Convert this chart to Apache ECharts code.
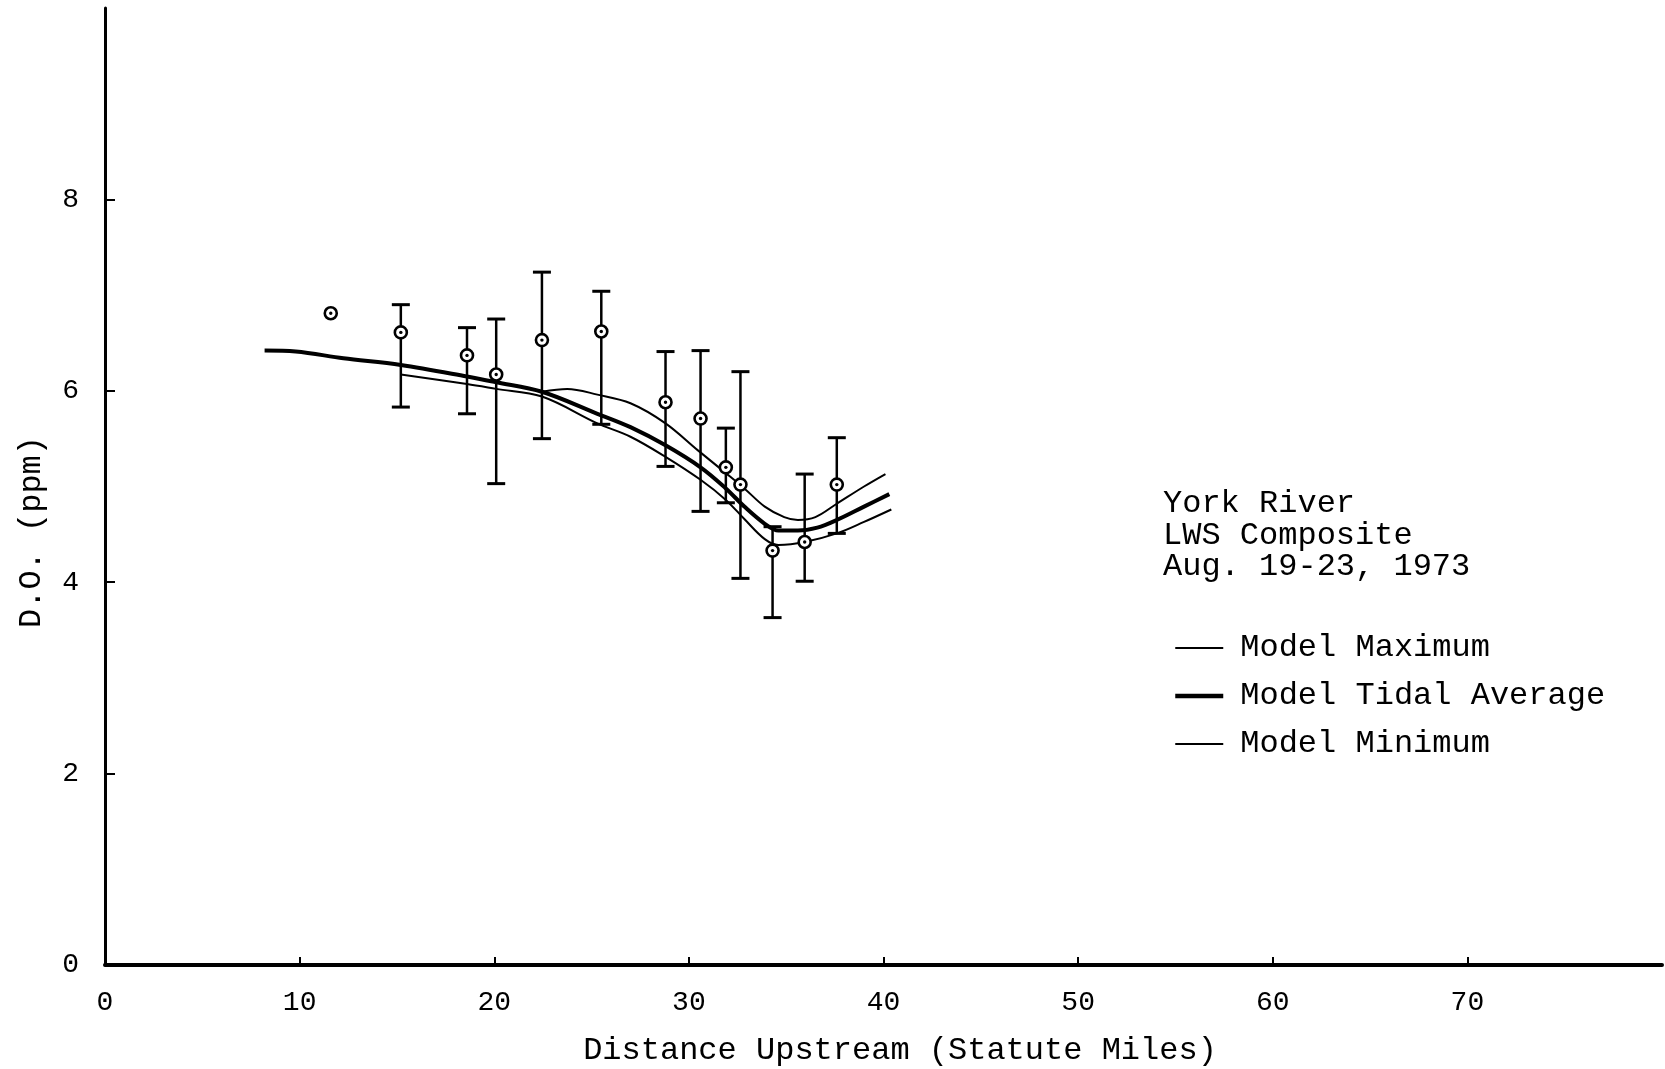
<!DOCTYPE html>
<html>
<head>
<meta charset="utf-8">
<script src="https://cdn.jsdelivr.net/npm/echarts@6/dist/echarts.min.js"></script>
<style>
html,body{margin:0;padding:0;background:#fff;}
#chart{width:1665px;height:1069px;}
</style>
</head>
<body>
<div id="chart"></div>
<script>
// ---- Data ----
const xTicks = [0, 10, 20, 30, 40, 50, 60, 70];
const yTicks = [0, 2, 4, 6, 8];

// Observed D.O. (circles) with range bars
const distance = [11.6, 15.2, 18.6, 20.1, 22.45, 25.5, 28.8, 30.6, 31.9, 32.65, 34.3, 35.95, 37.6];
const observed = [6.81, 6.61, 6.37, 6.17, 6.53, 6.62, 5.88, 5.71, 5.20, 5.02, 4.33, 4.42, 5.02];
const obsHigh  = [null, 6.90, 6.66, 6.75, 7.24, 7.04, 6.41, 6.42, 5.61, 6.20, 4.58, 5.13, 5.51];
const obsLow   = [null, 5.83, 5.76, 5.03, 5.50, 5.65, 5.21, 4.74, 4.83, 4.04, 3.63, 4.01, 4.51];

// Model Tidal Average
const avgX = [8.2, 9.8, 12.25, 15.2, 18.6, 20.1, 22.45, 25.3, 27.0, 28.8, 30.6, 31.9, 32.85, 33.9, 34.6, 35.6, 36.6, 37.6, 39.0, 40.3];
const avgY = [6.42, 6.41, 6.34, 6.27, 6.15, 6.09, 5.99, 5.76, 5.62, 5.43, 5.20, 4.98, 4.79, 4.61, 4.54, 4.54, 4.57, 4.65, 4.79, 4.92];

// Model Minimum
const minX = [15.2, 18.6, 20.1, 22.45, 25.3, 27.0, 28.8, 30.6, 31.9, 32.85, 33.9, 34.6, 35.95, 37.6, 39.0, 40.4];
const minY = [6.17, 6.07, 6.02, 5.94, 5.66, 5.52, 5.31, 5.07, 4.86, 4.66, 4.45, 4.39, 4.42, 4.51, 4.63, 4.76];

// Model Maximum
const maxX = [22.45, 23.75, 25.3, 27.0, 28.8, 30.45, 31.9, 32.85, 33.9, 34.9, 35.6, 36.5, 37.6, 39.0, 40.1];
const maxY = [5.99, 6.02, 5.96, 5.87, 5.66, 5.38, 5.14, 4.98, 4.79, 4.68, 4.65, 4.68, 4.82, 5.00, 5.13];

const noteLines = ['York River', 'LWS Composite', 'Aug. 19-23, 1973'];
const xName = 'Distance Upstream (Statute Miles)';
const yName = 'D.O. (ppm)';

// ---- Chart ----
const FONT = '"Liberation Mono", "DejaVu Sans Mono", monospace';
const pair = (xs, ys) => xs.map((x, i) => [x, ys[i]]);
const chart = echarts.init(document.getElementById('chart'), null, {renderer: 'canvas'});

const option = {
  backgroundColor: '#ffffff',
  animation: false,
  grid: {left: 105, right: 3, top: 8, bottom: 104, containLabel: false},
  xAxis: {
    type: 'value', min: 0, max: 80, interval: 10,
    axisLine: {show: true, onZero: false, lineStyle: {color: '#000', width: 4}},
    axisTick: {show: true, inside: true, length: 8, lineStyle: {color: '#000', width: 2}, customValues: [10, 20, 30, 40, 50, 60, 70]},
    axisLabel: {show: true, margin: 24, color: '#000', fontFamily: FONT, fontSize: 28, customValues: xTicks},
    splitLine: {show: false}
  },
  yAxis: {
    type: 'value', min: 0, max: 10, interval: 2,
    axisLine: {show: true, onZero: false, lineStyle: {color: '#000', width: 3}},
    axisTick: {show: true, inside: true, length: 10, lineStyle: {color: '#000', width: 2}, customValues: [2, 4, 6, 8]},
    axisLabel: {show: true, margin: 26, color: '#000', fontFamily: FONT, fontSize: 28, customValues: yTicks},
    splitLine: {show: false}
  },
  legend: {
    orient: 'vertical', left: 1168, top: 626,
    itemWidth: 48, itemHeight: 14, itemGap: 14,
    data: [
      {name: 'Model Maximum', lineStyle: {width: 2}},
      {name: 'Model Tidal Average', lineStyle: {width: 4.5}},
      {name: 'Model Minimum', lineStyle: {width: 2}}
    ],
    itemStyle: {opacity: 0},
    lineStyle: {width: 'inherit'},
    textStyle: {color: '#000', fontFamily: FONT, fontSize: 32, lineHeight: 34, padding: [0, 0, 0, 12]},
    selectedMode: false
  },
  graphic: [
    {type: 'text', left: 1163, top: 488, silent: true,
     style: {text: noteLines.join('\n'), fill: '#000', font: '32px ' + FONT, lineHeight: 31.5}},
    {type: 'text', x: 900, y: 1051, silent: true,
     style: {text: xName, fill: '#000', font: '32px ' + FONT, align: 'center', verticalAlign: 'middle'}},
    {type: 'text', x: 32, y: 532, rotation: Math.PI / 2, silent: true,
     style: {text: yName, fill: '#000', font: '32px ' + FONT, align: 'center', verticalAlign: 'middle'}}
  ],
  series: [
    {name: 'Model Maximum', type: 'line', data: pair(maxX, maxY), smooth: 0.35, symbol: 'none',
     lineStyle: {color: '#000', width: 2}, itemStyle: {color: '#000'}, z: 2},
    {name: 'Model Tidal Average', type: 'line', data: pair(avgX, avgY), smooth: 0.35, symbol: 'none',
     lineStyle: {color: '#000', width: 4}, itemStyle: {color: '#000'}, z: 3},
    {name: 'Model Minimum', type: 'line', data: pair(minX, minY), smooth: 0.35, symbol: 'none',
     lineStyle: {color: '#000', width: 2}, itemStyle: {color: '#000'}, z: 2},
    {name: 'Observed', type: 'custom', z: 5,
     data: distance.map((d, i) => [d, observed[i], obsHigh[i] == null ? NaN : obsHigh[i], obsLow[i] == null ? NaN : obsLow[i]]),
     encode: {x: 0, y: 1},
     renderItem: function (params, api) {
       const x = api.value(0), y = api.value(1), hi = api.value(2), lo = api.value(3);
       const c = api.coord([x, y]);
       const children = [];
       const stroke = {stroke: '#000', lineWidth: 2.5};
       if (!isNaN(hi) && !isNaN(lo)) {
         const pHi = api.coord([x, hi]);
         const pLo = api.coord([x, lo]);
         const cw = 9;
         children.push({type: 'line', shape: {x1: pHi[0], y1: pHi[1], x2: pLo[0], y2: pLo[1]}, style: stroke});
         children.push({type: 'line', shape: {x1: pHi[0] - cw, y1: pHi[1], x2: pHi[0] + cw, y2: pHi[1]}, style: {stroke: '#000', lineWidth: 3}});
         children.push({type: 'line', shape: {x1: pLo[0] - cw, y1: pLo[1], x2: pLo[0] + cw, y2: pLo[1]}, style: {stroke: '#000', lineWidth: 3}});
       }
       children.push({type: 'circle', shape: {cx: c[0], cy: c[1], r: 6}, style: {fill: '#fff', stroke: '#000', lineWidth: 2.6}});
       children.push({type: 'circle', shape: {cx: c[0], cy: c[1], r: 1.7}, style: {fill: '#000'}});
       return {type: 'group', children: children};
     }
    }
  ]
};
chart.setOption(option);
</script>
</body>
</html>
